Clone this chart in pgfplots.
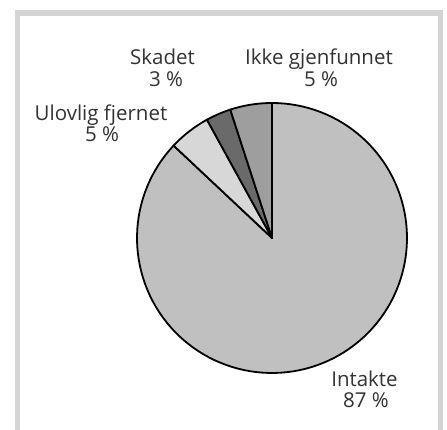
\documentclass[border=0pt]{standalone}
\usepackage{pgfplots}
\pgfplotsset{compat=1.18}
\usepackage{fontspec}
\setmainfont{Open Sans}
\definecolor{cIntakte}{HTML}{C0C0C0}
\definecolor{cUlovlig}{HTML}{D7D7D7}
\definecolor{cSkadet}{HTML}{6A6A6A}
\definecolor{cIkke}{HTML}{9E9E9E}
\definecolor{frame}{HTML}{D4D4D4}
% shares in percent, clockwise from 12 o'clock
\def\vIntakte{87}
\def\vUlovlig{5}
\def\vSkadet{3}
\def\vIkke{5}
\begin{document}
\begin{tikzpicture}
\begin{axis}[hide axis, x=1pt, y=1pt, xmin=0, xmax=447, ymin=0, ymax=430,
  clip=false, anchor=origin, at={(0,0)}]
  \path (0,0) rectangle (447,430);
  \fill[frame] (14.5,0) rectangle (443,420);
  \fill[white] (20,0) rectangle (437.5,413.5);
  \pgfmathsetmacro{\aA}{90}
  \pgfmathsetmacro{\aB}{\aA-3.6*\vIntakte}
  \pgfmathsetmacro{\aC}{\aB-3.6*\vUlovlig}
  \pgfmathsetmacro{\aD}{\aC-3.6*\vSkadet}
  \pgfmathsetmacro{\aE}{\aD-3.6*\vIkke}
  \addplot[fill=cIntakte, draw=black, line width=1.8pt, line join=round, domain=\aB:\aA, samples=120, variable=\t]
    ({272+135*cos(t)}, {192+135*sin(t)}) -- (272,192) -- cycle;
  \addplot[fill=cUlovlig, draw=black, line width=1.8pt, line join=round, domain=\aC:\aB, samples=20, variable=\t]
    ({272+135*cos(t)}, {192+135*sin(t)}) -- (272,192) -- cycle;
  \addplot[fill=cSkadet, draw=black, line width=1.8pt, line join=round, domain=\aD:\aC, samples=20, variable=\t]
    ({272+135*cos(t)}, {192+135*sin(t)}) -- (272,192) -- cycle;
  \addplot[fill=cIkke, draw=black, line width=1.8pt, line join=round, domain=\aE:\aD, samples=20, variable=\t]
    ({272+135*cos(t)}, {192+135*sin(t)}) -- (272,192) -- cycle;
  \tikzset{lbl/.style={anchor=base, inner sep=0pt, font=\fontsize{20.5}{22}\selectfont, text=black!80}}
  \node[lbl] at (162.5,365) {Skadet};
  \node[lbl] at (166,343.3) {3 \%};
  \node[lbl] at (319,365) {Ikke gjenfunnet};
  \node[lbl] at (321,343.3) {5 \%};
  \node[lbl] at (101,309.3) {Ulovlig fjernet};
  \node[lbl] at (102,288) {5 \%};
  \node[lbl] at (364.5,43) {Intakte};
  \node[lbl] at (366,22) {87 \%};
\end{axis}
\end{tikzpicture}
\end{document}
